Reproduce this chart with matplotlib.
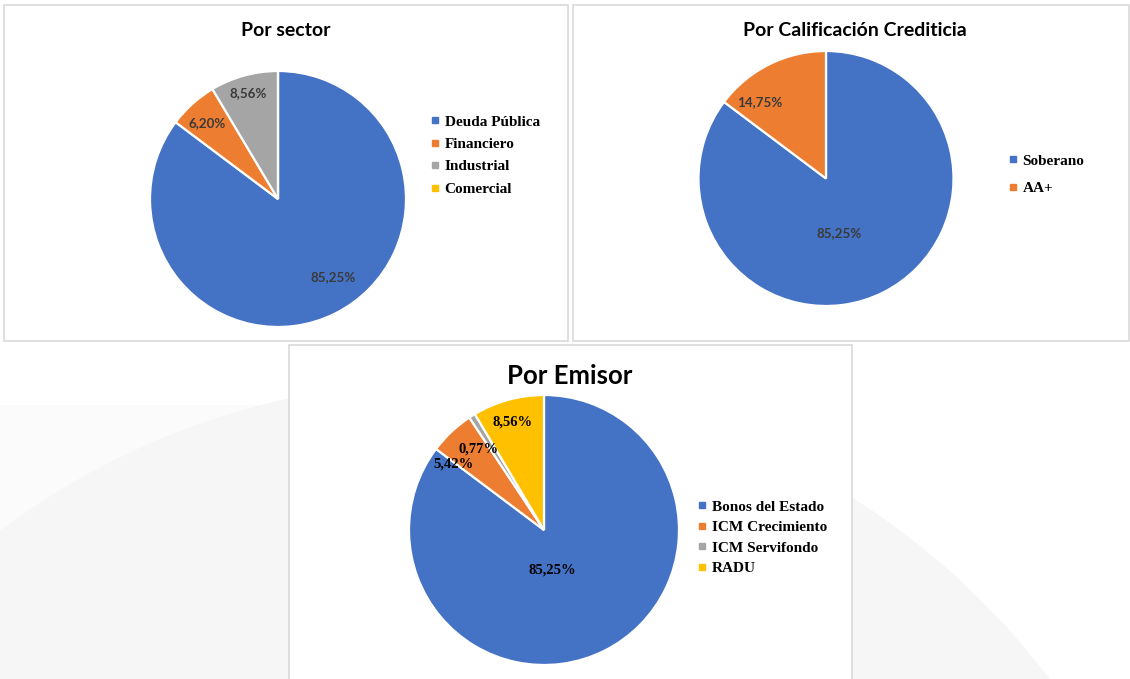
import numpy as np
import matplotlib
matplotlib.use("Agg")
import matplotlib.pyplot as plt
from matplotlib.patches import Rectangle, Circle
from matplotlib.lines import Line2D

# Datos
sector_labels = ['Deuda Pública', 'Financiero', 'Industrial', 'Comercial']
sector_values = [85.25, 6.20, 8.56, 0.0]

calif_labels = ['Soberano', 'AA+']
calif_values = [85.25, 14.75]

emisor_labels = ['Bonos del Estado', 'ICM Crecimiento', 'ICM Servifondo', 'RADU']
emisor_values = [85.25, 5.42, 0.77, 8.56]

colors = ['#4472C4', '#ED7D31', '#A5A5A5', '#FFC000']

W, H = 1130, 679
fig = plt.figure(figsize=(W / 100, H / 100), dpi=100)


def fx(x):
    return x / W


def fy(y):
    return 1 - y / H


# Fondo (marca de agua tenue)
bg = fig.add_axes([0, 0, 1, 1])
bg.set_xlim(0, W)
bg.set_ylim(H, 0)
bg.axis('off')
bg.add_patch(Rectangle((0, 405), 290, 300, facecolor='#fbfbfb', edgecolor='none'))
bg.add_patch(Circle((450, 1133), 752, facecolor='#f6f6f6', edgecolor='none'))

# Cajas de los gráficos
boxes = [(4, 5, 568, 341), (573, 5, 1129, 341), (289, 345, 852, 700)]
for x0, y0, x1, y1 in boxes:
    bg.add_patch(Rectangle((x0, y0), x1 - x0, y1 - y0, facecolor='white',
                           edgecolor='#d9d9d9', lw=1.2))


def fmt(v):
    return f"{v:.2f}".replace('.', ',') + '%'


def draw_pie(values, cx, cy, r, label_style, label_font):
    ax = fig.add_axes([fx(cx - r), fy(cy + r), 2 * r / W, 2 * r / H])
    wedges, _ = ax.pie(values, colors=colors[:len(values)], startangle=90,
                       counterclock=False,
                       wedgeprops=dict(edgecolor='white', linewidth=1.6))
    ax.set_xlim(-1, 1)
    ax.set_ylim(-1, 1)
    ax.axis('off')
    # Etiquetas de porcentaje
    for w, v, (dist, shift) in zip(wedges, values, label_style):
        if v <= 0:
            continue
        ang = np.deg2rad((w.theta1 + w.theta2) / 2 + shift)
        ax.text(dist * np.cos(ang), dist * np.sin(ang), fmt(v),
                ha='center', va='center', **label_font)
    return ax


calibri_lbl = dict(family='Lato', fontweight='bold', fontsize=9.6, color='#3a3a3a')
times_lbl = dict(family='Liberation Serif', fontweight='bold', fontsize=10.5, color='black')

draw_pie(sector_values, 278, 199, 128,
         [(0.75, 8.6), (0.81, 1), (0.86, 0.5), (0.8, 0)], calibri_lbl)
draw_pie(calif_values, 826, 178.5, 127.5,
         [(0.44, -13.5), (0.79, 14.5)], calibri_lbl)
draw_pie(emisor_values, 544, 530, 135,
         [(0.30, -15), (0.83, 10.7), (0.77, 7), (0.83, 1)], times_lbl)

# Títulos
fig.text(fx(286), fy(30), 'Por sector', ha='center', va='center',
         family='Lato', fontweight='bold', fontsize=14)
fig.text(fx(855), fy(30), 'Por Calificación Crediticia', ha='center', va='center',
         family='Lato', fontweight='bold', fontsize=14)
fig.text(fx(570), fy(376), 'Por Emisor', ha='center', va='center',
         family='Lato', fontweight='bold', fontsize=18.5)


# Leyendas
def add_legend(labels, x, y, spacing):
    handles = [Line2D([], [], marker='s', linestyle='none', color=c, markersize=4.5)
               for c in colors[:len(labels)]]
    fig.legend(handles, labels, loc='upper left', bbox_to_anchor=(fx(x), fy(y)),
               frameon=False, handlelength=0.6, handletextpad=0.35,
               borderpad=0, borderaxespad=0, labelspacing=spacing,
               prop=dict(family='Liberation Serif', weight='bold', size=11))


add_legend(sector_labels, 430, 115, 0.57)
add_legend(calif_labels, 1008, 154, 0.9)
add_legend(emisor_labels, 697, 500, 0.45)

fig.savefig('out.png', dpi=100)
